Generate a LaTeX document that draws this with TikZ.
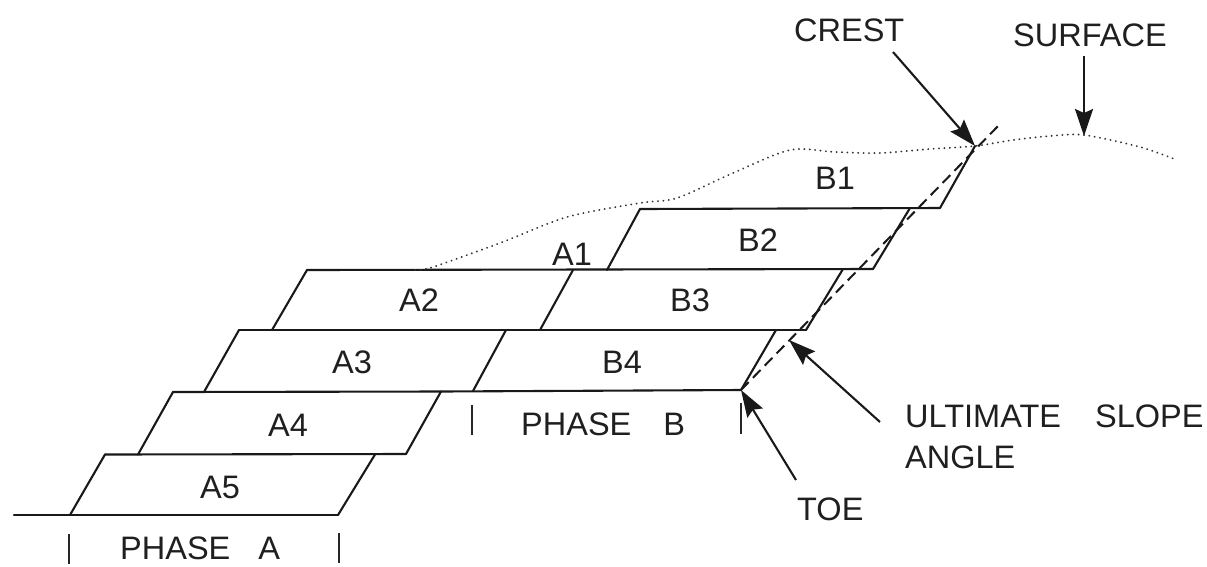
\documentclass[tikz,border=0pt]{standalone}
\usepackage{fontspec}
\setmainfont{Liberation Sans}
\usetikzlibrary{arrows.meta}
\tikzset{
 x=1pt,y=-1pt,
 edge/.style={line width=2.1pt,line cap=round,line join=round,black!90},
 dashline/.style={line width=2pt,dash pattern=on 11pt off 6pt,black!90},
 dotline/.style={line width=1.9pt,line cap=round,dash pattern=on 0.2pt off 5.2pt,black!80},
 arrowline/.style={line width=2.1pt,black!90,-{Stealth[length=27pt,width=18pt,inset=4pt]}},
 lab/.style={inner sep=0pt,anchor=base west,font=\fontsize{32.5}{32.5}\selectfont,text=black!88},
 inlab/.style={inner sep=0pt,anchor=center,font=\fontsize{32.5}{32.5}\selectfont,text=black!88},
 tick/.style={line width=2pt,black!85}
}
\begin{document}
\begin{tikzpicture}
\useasboundingbox (0,0) rectangle (1207,566);
% points on the slope
\coordinate (toe) at (741,390);
\coordinate (crest) at (975,146);
\coordinate (dashend) at (1000,124);
\coordinate (ult) at (789,340);
\coordinate (surfpt) at (1084,136);
% horizontal benches
\draw[edge] (14,515) -- (338,515);
\draw[edge] (105,454.5) -- (406,454);
\draw[edge] (173,392) -- (441,391.5) -- (741,390);
\draw[edge] (239,330) -- (806,330);
\draw[edge] (307,270) -- (873,269);
\draw[edge] (640,209) -- (940,208);
% inclined faces
\draw[edge] (70,515) -- (105,454.5);
\draw[edge] (338,515) -- (375,454.5);
\draw[edge] (138,454.5) -- (173,392);
\draw[edge] (406,454) -- (441,391.5);
\draw[edge] (204,392) -- (239,330);
\draw[edge] (473,391) -- (506,330);
\draw[edge] (272,330) -- (307,270);
\draw[edge] (540,330) -- (573,270);
\draw[edge] (607,270) -- (640,209);
\draw[edge] (741,390) -- (776,330);
\draw[edge] (806,330) -- (843,269);
\draw[edge] (873,269) -- (910,208);
\draw[edge] (940,208) -- (crest);
% ultimate slope
\draw[dashline] (toe) -- (dashend);
% surface
\draw[dotline] plot[smooth,tension=0.5] coordinates {(415,270) (433,267) (500,243) (567,217) (640,203) (677,198) (733,173) (790,150) (835,152) (880,153) (930,149) (975,146) (1013,140) (1050,136) (1084,135) (1140,147) (1177,160)};
% arrows
\coordinate (ca) at (893,52);
\coordinate (sa) at (1084,56);
\coordinate (ua) at (880,422);
\coordinate (ta) at (796,480);
\draw[arrowline] (ca) -- (crest);
\draw[arrowline] (sa) -- (surfpt);
\draw[arrowline] (ua) -- (ult);
\draw[arrowline] (ta) -- (toe);
% ticks
\coordinate (t1a) at (69,534); \coordinate (t1b) at (69,564);
\coordinate (t2a) at (339,533); \coordinate (t2b) at (339,563);
\coordinate (t3a) at (472,405); \coordinate (t3b) at (472,435);
\coordinate (t4a) at (741,403); \coordinate (t4b) at (741,434);
\draw[tick] (t1a) -- (t1b);
\draw[tick] (t2a) -- (t2b);
\draw[tick] (t3a) -- (t3b);
\draw[tick] (t4a) -- (t4b);
% labels
\node[inlab] (A1) at (572,254) {A1};
\node[inlab] (A2) at (419,300) {A2};
\node[inlab] (A3) at (352,362) {A3};
\node[inlab] (A4) at (288,425) {A4};
\node[inlab] (A5) at (220,487) {A5};
\node[inlab] (B1) at (835,178) {B1};
\node[inlab] (B2) at (758,240) {B2};
\node[inlab] (B3) at (690,300) {B3};
\node[inlab] (B4) at (622,362) {B4};
\node[lab] (crestl) at (794,41) {CREST};
\node[lab] (surf) at (1013,46) {SURFACE};
\node[lab] (phb) at (521,435) {PHASE\hspace{32pt}B};
\node[lab] (pha) at (120,559) {PHASE\hspace{28pt}A};
\node[lab] (ul1) at (905,427) {ULTIMATE\hspace{34pt}SLOPE};
\node[lab] (ul2) at (905,468) {ANGLE};
\node[lab] (toel) at (797,520) {TOE};
\end{tikzpicture}
\end{document}
